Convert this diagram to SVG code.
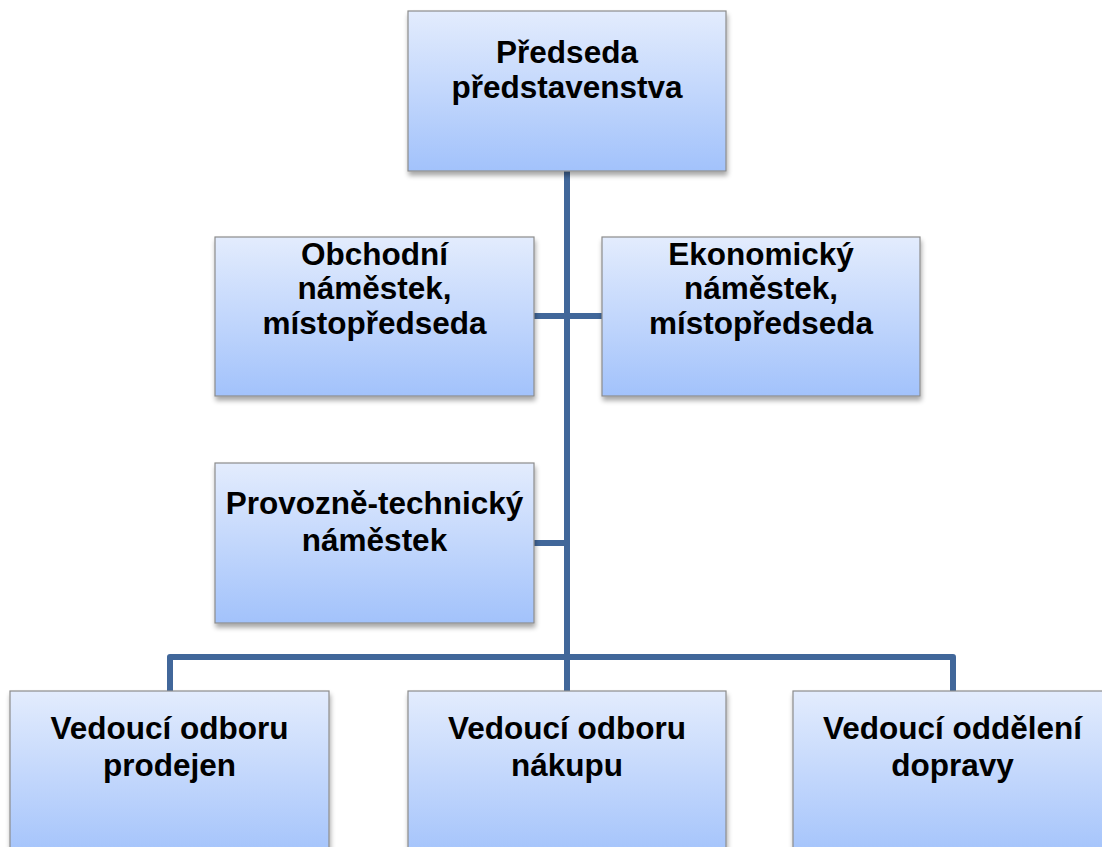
<svg xmlns="http://www.w3.org/2000/svg" width="1102" height="847" viewBox="0 0 1102 847">
<defs>
<linearGradient id="g" x1="0" y1="0" x2="0" y2="1">
<stop offset="0" stop-color="#e3ecfd"/>
<stop offset="1" stop-color="#a2c2fb"/>
</linearGradient>
<filter id="sh" x="-10%" y="-10%" width="120%" height="130%">
<feGaussianBlur in="SourceAlpha" stdDeviation="2.5"/>
<feOffset dx="1" dy="4"/>
<feComponentTransfer><feFuncA type="linear" slope="0.35"/></feComponentTransfer>
<feMerge><feMergeNode/><feMergeNode in="SourceGraphic"/></feMerge>
</filter>
</defs>
<style>
.box{fill:url(#g);stroke:#8c8c8c;stroke-width:1.2;filter:url(#sh)}
.t{font-family:"Liberation Sans",Arial,sans-serif;font-weight:bold;font-size:31.5px;fill:#000;text-anchor:middle}
.c{fill:none;stroke:#41679a;stroke-width:6;stroke-linejoin:round}
</style>
<rect width="1102" height="847" fill="#ffffff"/>
<g id="connectors">
<path class="c" d="M567 171 V691"/>
<path class="c" d="M534 316 H602"/>
<path class="c" d="M534 543 H567"/>
<path class="c" d="M170 691 V657 H953 V691"/>
</g>
<g id="n-predseda">
<rect class="box" x="408" y="11" width="318" height="160"/>
<text class="t" x="567" y="63">Předseda</text>
<text class="t" x="567" y="98">představenstva</text>
</g>
<g id="n-obchodni">
<rect class="box" x="215" y="237" width="319" height="159"/>
<text class="t" x="374.5" y="265">Obchodní</text>
<text class="t" x="374.5" y="299">náměstek,</text>
<text class="t" x="374.5" y="334">místopředseda</text>
</g>
<g id="n-ekonomicky">
<rect class="box" x="602" y="237" width="318" height="159"/>
<text class="t" x="761" y="265">Ekonomický</text>
<text class="t" x="761" y="299">náměstek,</text>
<text class="t" x="761" y="334">místopředseda</text>
</g>
<g id="n-provozne">
<rect class="box" x="215" y="463" width="319" height="160"/>
<text class="t" x="374.5" y="514">Provozně-technický</text>
<text class="t" x="374.5" y="551">náměstek</text>
</g>
<g id="n-prodej">
<rect class="box" x="10" y="691" width="319" height="170"/>
<text class="t" x="169.5" y="739">Vedoucí odboru</text>
<text class="t" x="169.5" y="776">prodejen</text>
</g>
<g id="n-nakup">
<rect class="box" x="408" y="691" width="318" height="170"/>
<text class="t" x="567" y="739">Vedoucí odboru</text>
<text class="t" x="567" y="776">nákupu</text>
</g>
<g id="n-doprava">
<rect class="box" x="793" y="691" width="319" height="170"/>
<text class="t" x="952.5" y="739">Vedoucí oddělení</text>
<text class="t" x="952.5" y="776">dopravy</text>
</g>
</svg>
